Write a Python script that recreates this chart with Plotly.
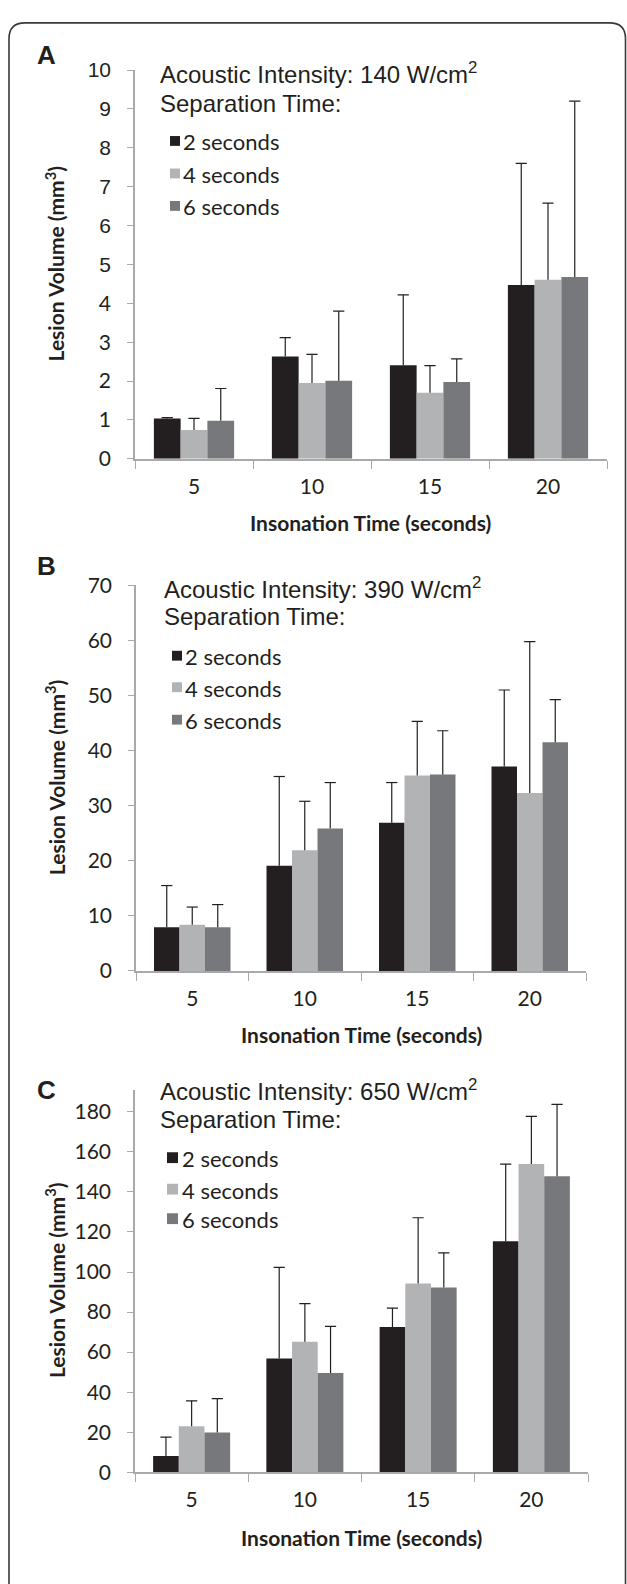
import plotly.graph_objects as go

# ---------------- data ----------------
categories = ["5", "10", "15", "20"]
series_names = ["2 seconds", "4 seconds", "6 seconds"]

# Panel A: 140 W/cm2
a_2s = [1.04, 2.63, 2.41, 4.47]
a_2s_sd = [0.02, 0.49, 1.81, 3.13]
a_4s = [0.74, 1.95, 1.70, 4.61]
a_4s_sd = [0.30, 0.74, 0.70, 1.97]
a_6s = [0.98, 2.01, 1.98, 4.68]
a_6s_sd = [0.83, 1.79, 0.59, 4.52]

# Panel B: 390 W/cm2
b_2s = [7.95, 19.1, 26.9, 37.1]
b_2s_sd = [7.55, 16.2, 7.3, 13.9]
b_4s = [8.4, 21.9, 35.5, 32.3]
b_4s_sd = [3.2, 8.9, 9.8, 27.5]
b_6s = [7.95, 25.85, 35.65, 41.5]
b_6s_sd = [4.1, 8.35, 7.95, 7.75]

# Panel C: 650 W/cm2
c_2s = [8.1, 56.8, 72.6, 115.3]
c_2s_sd = [9.5, 45.5, 9.4, 38.6]
c_4s = [23.0, 65.2, 94.3, 153.9]
c_4s_sd = [12.7, 19.0, 32.8, 23.8]
c_6s = [19.9, 49.6, 92.3, 147.8]
c_6s_sd = [16.9, 23.3, 17.3, 35.9]

intensities = ["140", "390", "650"]
panel_letters = ["A", "B", "C"]
yA_ticks = [0, 1, 2, 3, 4, 5, 6, 7, 8, 9, 10]
yB_ticks = [0, 10, 20, 30, 40, 50, 60, 70]
yC_ticks = [0, 20, 40, 60, 80, 100, 120, 140, 160, 180]
x_title = "Insonation Time (seconds)"
y_title = "Lesion Volume (mm<sup>3</sup>)"

# ---------------- style ----------------
W, H = 627, 1584
colors = ["#231f20", "#b2b3b5", "#77787b"]
axis_gray = "#a9a9a9"
txt = "#231f20"
CAL = "Lato"
ARIAL = "Liberation Sans"


def px(x):
    return x / W


def py(y):
    return 1 - y / H


panels = [
    dict(vals=[a_2s, a_4s, a_6s], sds=[a_2s_sd, a_4s_sd, a_6s_sd],
         xdom=[px(135), px(607)], ydom=[py(452), py(57)], yrange=[0, 10], ticks=yA_ticks,
         letter_y=42, head_x=158, head_y=60, sep_y=91, leg_y=[130, 163, 196], sq_x=170, sq=10,
         leg_tx=181, xt_y=517),
    dict(vals=[b_2s, b_4s, b_6s], sds=[b_2s_sd, b_4s_sd, b_6s_sd],
         xdom=[px(136), px(586)], ydom=[py(972.3), py(580.5)], yrange=[0, 70], ticks=yB_ticks,
         letter_y=561, head_x=162, head_y=583, sep_y=612, leg_y=[653, 685, 718], sq_x=172, sq=10,
         leg_tx=183, xt_y=1037),
    dict(vals=[c_2s, c_4s, c_6s], sds=[c_2s_sd, c_4s_sd, c_6s_sd],
         xdom=[px(135), px(588)], ydom=[py(1481.7), py(1093)], yrange=[0, 191], ticks=yC_ticks,
         letter_y=1093, head_x=158, head_y=1093, sep_y=1123, leg_y=[1163, 1195, 1225], sq_x=167, sq=11,
         leg_tx=180, xt_y=1548),
]

fig = go.Figure()
annotations = []
shapes = []

for p_i, p in enumerate(panels):
    sfx = "" if p_i == 0 else str(p_i + 1)
    xa, ya = "x" + sfx, "y" + sfx
    for s_i in range(3):
        fig.add_trace(go.Bar(
            x=categories, y=p["vals"][s_i], name=series_names[s_i],
            marker=dict(color=colors[s_i], line=dict(width=0)),
            offsetgroup=str(s_i), alignmentgroup="g" + sfx,
            error_y=dict(type="data", array=p["sds"][s_i], arrayminus=[0] * 4, symmetric=False,
                         color=txt, thickness=1.2, width=0),
            xaxis=xa, yaxis=ya, showlegend=False, hoverinfo="skip"))
    for s_i in range(3):
        tops = [v + s for v, s in zip(p["vals"][s_i], p["sds"][s_i])]
        fig.add_trace(go.Scatter(
            x=categories, y=tops, mode="markers",
            marker=dict(symbol="line-ew", size=8, line=dict(color=txt, width=1.2)),
            offsetgroup=str(s_i), alignmentgroup="g" + sfx,
            xaxis=xa, yaxis=ya, showlegend=False, hoverinfo="skip"))

    xkey = "xaxis" + sfx
    ykey = "yaxis" + sfx
    if p_i == 0:
        ticktext = [('<span style="font-family:%s;font-size:21px">%d</span>' % (ARIAL, t))
                    if t >= 5 else str(t) for t in p["ticks"]]
    else:
        ticktext = [str(t) for t in p["ticks"]]
    fig.update_layout(**{
        xkey: dict(domain=p["xdom"], anchor=ya, type="category", categoryorder="array",
                   categoryarray=categories, range=[-0.5, 3.5], showline=True,
                   linecolor=axis_gray, linewidth=1.5, ticks="outside", tickson="boundaries",
                   ticklen=8, tickwidth=1.2, tickcolor=axis_gray, showgrid=False, zeroline=False,
                   tickfont=dict(family=CAL, size=21, color=txt), ticklabelstandoff=8,
                   fixedrange=True),
        ykey: dict(domain=p["ydom"], anchor=xa, range=p["yrange"], tickmode="array",
                   tickvals=p["ticks"], ticktext=ticktext, showline=True, linecolor=axis_gray,
                   linewidth=1.5, ticks="outside", ticklen=6, tickwidth=1.2, tickcolor=axis_gray,
                   showgrid=False, zeroline=False,
                   tickfont=dict(family=CAL, size=21, color=txt), ticklabelstandoff=12,
                   fixedrange=True),
    })

    # panel letter
    annotations.append(dict(text="<b>%s</b>" % panel_letters[p_i], x=px(47), y=py(p["letter_y"]),
                            xref="paper", yref="paper", xanchor="center", yanchor="middle",
                            showarrow=False, font=dict(family=ARIAL, size=26, color=txt)))
    # header lines
    annotations.append(dict(text="Acoustic Intensity: %s W/cm<sup>2</sup>" % intensities[p_i],
                            x=px(p["head_x"]), y=py(p["head_y"]), xref="paper", yref="paper",
                            xanchor="left", yanchor="middle", showarrow=False,
                            font=dict(family=ARIAL, size=24, color=txt)))
    annotations.append(dict(text="Separation Time:", x=px(p["head_x"]), y=py(p["sep_y"]),
                            xref="paper", yref="paper", xanchor="left", yanchor="middle",
                            showarrow=False, font=dict(family=ARIAL, size=24, color=txt)))
    # custom legend
    for s_i in range(3):
        cy = p["leg_y"][s_i]
        half = p["sq"] / 2
        shapes.append(dict(type="rect", xref="paper", yref="paper",
                           x0=px(p["sq_x"]), x1=px(p["sq_x"] + p["sq"]),
                           y0=py(cy - 1 + half), y1=py(cy - 1 - half),
                           fillcolor=colors[s_i], line=dict(width=0)))
        annotations.append(dict(text=series_names[s_i], x=px(p["leg_tx"]), y=py(cy),
                                xref="paper", yref="paper", xanchor="left", yanchor="middle",
                                showarrow=False, font=dict(family=CAL, size=22, color=txt)))
    # axis titles
    xmid = (p["xdom"][0] + p["xdom"][1]) / 2
    annotations.append(dict(text="<b>%s</b>" % x_title, x=xmid, y=py(p["xt_y"]),
                            xref="paper", yref="paper", xanchor="center", yanchor="middle",
                            showarrow=False, font=dict(family=CAL, size=21, color=txt)))
    ymid = (p["ydom"][0] + p["ydom"][1]) / 2
    annotations.append(dict(text="<b>%s</b>" % y_title, x=px(55), y=ymid, textangle=-90,
                            xref="paper", yref="paper", xanchor="center", yanchor="middle",
                            showarrow=False, font=dict(family=CAL, size=21, color=txt)))

# outer rounded border (open at the bottom)
x0b, x1b, ytb, r = 9, 625.5, 9, 16
path = ("M %f,%f L %f,%f Q %f,%f %f,%f L %f,%f Q %f,%f %f,%f L %f,%f" % (
    px(x0b), py(H + 20), px(x0b), py(ytb + r), px(x0b), py(ytb), px(x0b + r), py(ytb),
    px(x1b - r), py(ytb), px(x1b), py(ytb), px(x1b), py(ytb + r), px(x1b), py(H + 20)))
shapes.append(dict(type="path", xref="paper", yref="paper", path=path,
                   line=dict(color="#3a3a3a", width=1.6)))

fig.update_layout(
    width=W, height=H, margin=dict(l=0, r=0, t=0, b=0),
    paper_bgcolor="white", plot_bgcolor="white",
    barmode="group", bargap=0.32, bargroupgap=0,
    scattermode="group", scattergap=0.32,
    showlegend=False, annotations=annotations, shapes=shapes,
)

fig.write_html("out.html", include_plotlyjs=True, config={"displayModeBar": False},
               post_script="document.body.style.margin='0';document.body.style.padding='0';")
